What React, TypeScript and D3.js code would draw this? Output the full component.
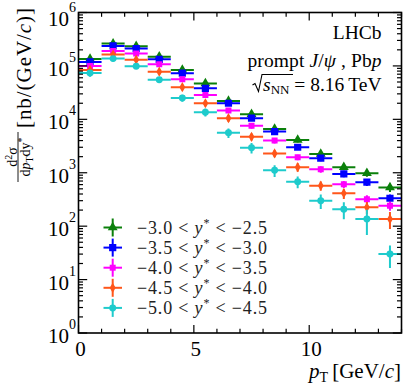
import React from "react";
import * as d3 from "d3";

// pT bin centres (GeV/c), each bin is 1 GeV/c wide
const ptCenters = [0.5, 1.5, 2.5, 3.5, 4.5, 5.5, 6.5, 7.5, 8.5, 9.5, 10.5, 11.5, 12.5, 13.5];
const binHalfWidth = 0.5;

// d2sigma/dpTdy* [nb/(GeV/c)] per rapidity bin
const ySigma30to25 = [1.35e5, 2.62e5, 2.34e5, 1.49e5, 8.4e4, 4.7e4, 2.2e4, 1.25e4, 6.6e3, 4.1e3, 2.25e3, 1.27e3, 980, 530];
const ySigma35to30 = [1.19e5, 2.37e5, 2.11e5, 1.33e5, 7.3e4, 3.8e4, 2.0e4, 1.05e4, 5.9e3, 3.0e3, 1.87e3, 950, 665, 333];
const ySigma40to35 = [1.0e5, 1.91e5, 1.7e5, 1.08e5, 5.6e4, 2.86e4, 1.46e4, 7.6e3, 4.0e3, 1.95e3, 1.16e3, 610, 320, 242];
const ySigma45to40 = [8.4e4, 1.63e5, 1.31e5, 7.8e4, 4.0e4, 2.0e4, 1.05e4, 4.7e3, 2.3e3, 1.27e3, 573, 413, 226, 136];
const ySigma50to45 = [7.4e4, 1.37e5, 9.9e4, 5.5e4, 2.5e4, 1.36e4, 5.6e3, 2.95e3, 1.11e3, 681, 300, 207, 136, 30];

// relative uncertainties
const err30to25 = [0.12, 0.1, 0.1, 0.1, 0.1, 0.1, 0.1, 0.1, 0.1, 0.1, 0.12, 0.12, 0.14, 0.18];
const err35to30 = [0.12, 0.1, 0.1, 0.1, 0.1, 0.1, 0.1, 0.1, 0.1, 0.1, 0.12, 0.13, 0.15, 0.18];
const err40to35 = [0.12, 0.1, 0.1, 0.1, 0.1, 0.1, 0.1, 0.12, 0.12, 0.12, 0.14, 0.15, 0.18, 0.2];
const err45to40 = [0.12, 0.1, 0.1, 0.1, 0.12, 0.12, 0.14, 0.15, 0.15, 0.18, 0.2, 0.22, 0.25, 0.35];
const err50to45 = [0.15, 0.12, 0.12, 0.12, 0.15, 0.17, 0.2, 0.22, 0.25, 0.25, 0.3, 0.35, 0.5, 0.45];

const legendRanges = [
  ["\u22123.0", "\u22122.5"],
  ["\u22123.5", "\u22123.0"],
  ["\u22124.0", "\u22123.5"],
  ["\u22124.5", "\u22124.0"],
  ["\u22125.0", "\u22124.5"],
];

const xMajorTicks = [0, 5, 10];
const yDecades = [0, 1, 2, 3, 4, 5, 6];

const series = [
  { values: ySigma30to25, errs: err30to25, color: "#0b800b", symbol: d3.symbolTriangle, size: 42 },
  { values: ySigma35to30, errs: err35to30, color: "#0000ff", symbol: d3.symbolSquare, size: 52 },
  { values: ySigma40to35, errs: err40to35, color: "#ff00ff", symbol: d3.symbolSquare, size: 36 },
  { values: ySigma45to40, errs: err45to40, color: "#ff561a", symbol: d3.symbolDiamond, size: 30 },
  { values: ySigma50to45, errs: err50to45, color: "#1ecbcc", symbol: d3.symbolCircle, size: 38 },
];

const W = 407;
const H = 390;
const left = 78.5, right = 401.5, top = 12.5, bottom = 333;
const FONT = "'Liberation Serif', 'DejaVu Serif', serif";

export default function App() {
  const x = d3.scaleLinear().domain([0, 14]).range([left, right]);
  const y = d3.scaleLog().domain([1, 1e6]).range([bottom, top]);

  const xMinor = d3.range(0, 15).filter((v) => !xMajorTicks.includes(v));
  const yMinor: number[] = [];
  yDecades.slice(0, -1).forEach((d) => {
    for (let k = 2; k <= 9; k++) yMinor.push(k * Math.pow(10, d));
  });

  const legendY = (i: number) => 227.5 + i * 20.1;

  return (
    <svg width={W} height={H} style={{ position: "absolute", left: 0, top: 0, background: "#fff" }} fontFamily={FONT}>
      <defs>
        <clipPath id="plotclip">
          <rect x={left} y={top} width={right - left} height={bottom - top} />
        </clipPath>
      </defs>

      {/* data */}
      <g clipPath="url(#plotclip)">
        {series.map((s, si) => (
          <g key={si} stroke={s.color} fill={s.color} strokeWidth={2}>
            {s.values.map((v, i) => {
              const cx = x(ptCenters[i]);
              const cy = y(v);
              return (
                <g key={i}>
                  <line x1={x(ptCenters[i] - binHalfWidth)} x2={x(ptCenters[i] + binHalfWidth)} y1={cy} y2={cy} />
                  <line x1={cx} x2={cx} y1={y(v * (1 + s.errs[i]))} y2={y(v * (1 - s.errs[i]))} />
                  <path d={d3.symbol(s.symbol, s.size)() as string} transform={`translate(${cx},${cy})`} stroke="none" />
                </g>
              );
            })}
          </g>
        ))}
      </g>

      {/* frame and ticks */}
      <rect x={left} y={top} width={right - left} height={bottom - top} fill="none" stroke="#000" strokeWidth={1.6} />
      <g stroke="#000" strokeWidth={1.2}>
        {xMajorTicks.map((t) => (
          <g key={"xM" + t}>
            <line x1={x(t)} x2={x(t)} y1={bottom} y2={bottom - 8} />
            <line x1={x(t)} x2={x(t)} y1={top} y2={top + 8} />
          </g>
        ))}
        {xMinor.map((t) => (
          <g key={"xm" + t}>
            <line x1={x(t)} x2={x(t)} y1={bottom} y2={bottom - 4.3} />
            <line x1={x(t)} x2={x(t)} y1={top} y2={top + 4.3} />
          </g>
        ))}
        {yDecades.map((d) => {
          const yy = y(Math.pow(10, d));
          return (
            <g key={"yM" + d}>
              <line x1={left} x2={left + 8.7} y1={yy} y2={yy} />
              <line x1={right} x2={right - 8.7} y1={yy} y2={yy} />
            </g>
          );
        })}
        {yMinor.map((v, i) => (
          <g key={"ym" + i}>
            <line x1={left} x2={left + 4.5} y1={y(v)} y2={y(v)} />
            <line x1={right} x2={right - 4.5} y1={y(v)} y2={y(v)} />
          </g>
        ))}
      </g>

      {/* tick labels */}
      <g fontSize={21} fill="#000">
        {xMajorTicks.map((t) => (
          <text key={"xl" + t} x={x(t) + 2} y={356} textAnchor="middle">
            {t}
          </text>
        ))}
        {yDecades.map((d) => (
          <text key={"yl" + d} x={76} y={Math.max(y(Math.pow(10, d)) + 10, 26)} textAnchor="end">
            10
            <tspan fontSize={14} dy={-14}>
              {d}
            </tspan>
          </text>
        ))}
      </g>

      {/* x title */}
      <text x={401} y={378} textAnchor="end" fontSize={21}>
        <tspan fontStyle="italic">p</tspan>
        <tspan fontSize={14} dy={4}>T</tspan>
        <tspan dy={-4}>{"\u2009[GeV/"}</tspan>
        <tspan fontStyle="italic">c</tspan>
        <tspan>]</tspan>
      </text>

      {/* y title */}
      <g transform="translate(31,68) rotate(-90)">
        <text textAnchor="middle" fontSize={21} textLength={120} lengthAdjust="spacing">
          [nb/(GeV/<tspan fontStyle="italic">c</tspan>)]
        </text>
      </g>
      <g transform="translate(0,157) rotate(-90)">
        <text x={0} y={16.5} textAnchor="middle" fontSize={14}>
          d<tspan fontSize={10} dy={-5}>2</tspan>
          <tspan dy={5}>σ</tspan>
        </text>
        <line x1={-25} x2={25} y1={18} y2={18} stroke="#000" strokeWidth={0.9} />
        <text x={0} y={29.5} textAnchor="middle" fontSize={14}>
          d<tspan fontStyle="italic">p</tspan>
          <tspan fontSize={10} dy={3}>T</tspan>
          <tspan dy={-3}>dy</tspan>
          <tspan fontSize={10} dy={-5}>*</tspan>
        </text>
      </g>

      {/* labels top-right */}
      <g fontSize={19.5} fill="#000" textAnchor="end">
        <text x={381.5} y={38.5}>LHCb</text>
        <text x={381.5} y={66.5} textLength={134} lengthAdjust="spacing">
          prompt <tspan fontStyle="italic">J</tspan>/<tspan fontStyle="italic">ψ</tspan> , Pb<tspan fontStyle="italic">p</tspan>
        </text>
        <text x={381.5} y={91}>
          <tspan fontStyle="italic">s</tspan>
          <tspan fontSize={13} dy={3}>NN</tspan>
          <tspan dy={-3}>{" = 8.16\u2009TeV"}</tspan>
        </text>
      </g>
      <path d="M252.5,85 L255,83.5 L258.5,91.5 L262,74.5 L293,74.5" fill="none" stroke="#000" strokeWidth={1.1} />

      {/* legend */}
      {series.map((s, i) => {
        const ly = legendY(i);
        return (
          <g key={"lg" + i}>
            <g stroke={s.color} strokeWidth={2}>
              <line x1={103.5} x2={122} y1={ly} y2={ly} />
              <line x1={112.7} x2={112.7} y1={ly - 9} y2={ly + 9} />
            </g>
            <path d={d3.symbol(s.symbol, s.size)() as string} transform={`translate(112.7,${ly})`} fill={s.color} />
            <text x={137} y={ly + 6} fontSize={18} fill="#222" textLength={130} lengthAdjust="spacing">
              {legendRanges[i][0]} {"<"} <tspan fontStyle="italic">y</tspan>
              <tspan fontSize={12} dy={-7}>*</tspan>
              <tspan dy={7}>{" < " + legendRanges[i][1]}</tspan>
            </text>
          </g>
        );
      })}
    </svg>
  );
}
